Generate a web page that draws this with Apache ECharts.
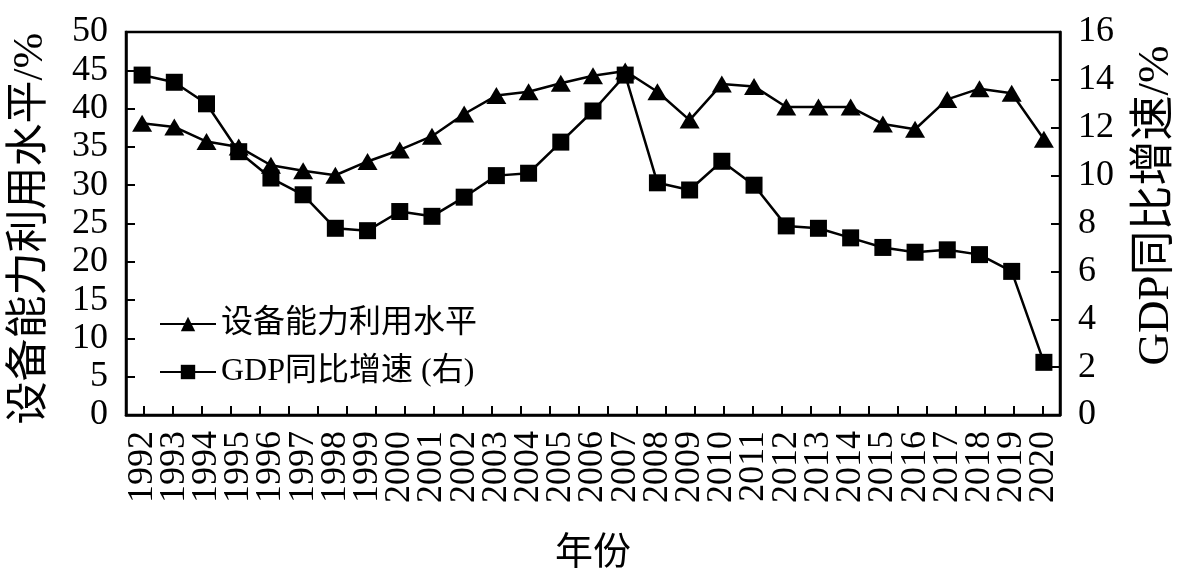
<!DOCTYPE html>
<html>
<head>
<meta charset="utf-8">
<script src="https://cdn.jsdelivr.net/npm/echarts@6/dist/echarts.min.js"></script>
<style>html,body{margin:0;padding:0;background:#fff}#c{width:1187px;height:587px}</style>
</head>
<body>
<div id="c"></div>
<script>
const years = ['1992','1993','1994','1995','1996','1997','1998','1999','2000','2001','2002','2003','2004','2005','2006','2007','2008','2009','2010','2011','2012','2013','2014','2015','2016','2017','2018','2019','2020'];
const utilization = [38.1,37.6,35.7,35.0,32.6,31.9,31.3,33.1,34.6,36.4,39.3,41.7,42.2,43.3,44.3,44.9,42.2,38.5,43.2,42.9,40.2,40.2,40.2,38.0,37.3,41.2,42.6,42.0,36.0];
const gdpGrowth = [14.2,13.9,13.0,11.0,9.9,9.2,7.8,7.7,8.5,8.3,9.1,10.0,10.1,11.4,12.7,14.2,9.7,9.4,10.6,9.6,7.9,7.8,7.4,7.0,6.8,6.9,6.7,6.0,2.2];
const leftTicks = {min: 0, max: 50, interval: 5};
const rightTicks = {min: 0, max: 16, interval: 2};
const seriesNames = ['设备能力利用水平', 'GDP同比增速 (右)'];
const xName = '年份';
const leftName = '设备能力利用水平/%';
const rightName = 'GDP同比增速/%';

const FONT = "'Liberation Serif','Times New Roman','Noto Sans CJK SC',serif";
// minor decorative ticks along the bottom axis (evenly spaced, independent of categories)
const minorTickCount = 32, minorSpan = 32.21, minorOffset = 0.62;
const minorTicks = [];
for (let k = 0; k < minorTickCount; k++) minorTicks.push(minorOffset + k);

const chart = echarts.init(document.getElementById('c'), null, {renderer: 'canvas'});
chart.setOption({
  animation: false,
  backgroundColor: '#fff',
  grid: {left: 126, right: 125, top: 32, bottom: 172, show: true, borderColor: '#000', borderWidth: 2.5, backgroundColor: 'transparent'},
  legend: {
    orient: 'vertical', left: 154, top: 301, itemWidth: 56, itemHeight: 18, itemGap: 12,
    textStyle: {fontFamily: FONT, fontSize: 32, color: '#000', lineHeight: 36},
    data: seriesNames
  },
  xAxis: [{
    type: 'category', data: years, boundaryGap: true,
    axisLine: {lineStyle: {color: '#000', width: 2.5}},
    axisTick: {show: false},
    axisLabel: {rotate: 90, fontFamily: FONT, fontSize: 36, color: '#000', margin: 16, interval: 0},
    name: xName, nameLocation: 'middle', nameGap: 120,
    nameTextStyle: {fontFamily: FONT, fontSize: 38, color: '#000'}
  }, {
    type: 'value', min: 0, max: minorSpan, position: 'bottom',
    axisLine: {show: false}, splitLine: {show: false}, axisLabel: {show: false},
    axisTick: {show: true, inside: true, length: 9, customValues: minorTicks, lineStyle: {color: '#000', width: 2}}
  }],
  yAxis: [{
    type: 'value', min: leftTicks.min, max: leftTicks.max, interval: leftTicks.interval, position: 'left',
    axisLine: {show: true, lineStyle: {color: '#000', width: 2.5}},
    axisTick: {show: true, inside: true, length: 9, lineStyle: {color: '#000', width: 2}},
    splitLine: {show: false},
    axisLabel: {fontFamily: FONT, fontSize: 36, color: '#000', margin: 18},
    name: leftName, nameLocation: 'middle', nameRotate: 90, nameGap: 74,
    nameTextStyle: {fontFamily: FONT, fontSize: 43, color: '#000', padding: [0, 10, 0, 0]}
  }, {
    type: 'value', min: rightTicks.min, max: rightTicks.max, interval: rightTicks.interval, position: 'right',
    axisLine: {show: true, lineStyle: {color: '#000', width: 2.5}},
    axisTick: {show: true, inside: true, length: 9, lineStyle: {color: '#000', width: 2}},
    splitLine: {show: false},
    axisLabel: {fontFamily: FONT, fontSize: 36, color: '#000', margin: 18},
    name: rightName, nameLocation: 'middle', nameRotate: 90, nameGap: 74,
    nameTextStyle: {fontFamily: FONT, fontSize: 45, color: '#000', padding: [0, 0, 0, 36]}
  }],
  series: [{
    name: seriesNames[0], type: 'line', data: utilization, xAxisIndex: 0, yAxisIndex: 0,
    symbol: 'triangle', symbolSize: [20, 17], showAllSymbol: true,
    lineStyle: {color: '#000', width: 2.5}, itemStyle: {color: '#000'}, z: 3
  }, {
    name: seriesNames[1], type: 'line', data: gdpGrowth, xAxisIndex: 0, yAxisIndex: 1,
    symbol: 'rect', symbolSize: 17, showAllSymbol: true,
    lineStyle: {color: '#000', width: 2.5}, itemStyle: {color: '#000'}, z: 4
  }]
});
</script>
</body>
</html>
